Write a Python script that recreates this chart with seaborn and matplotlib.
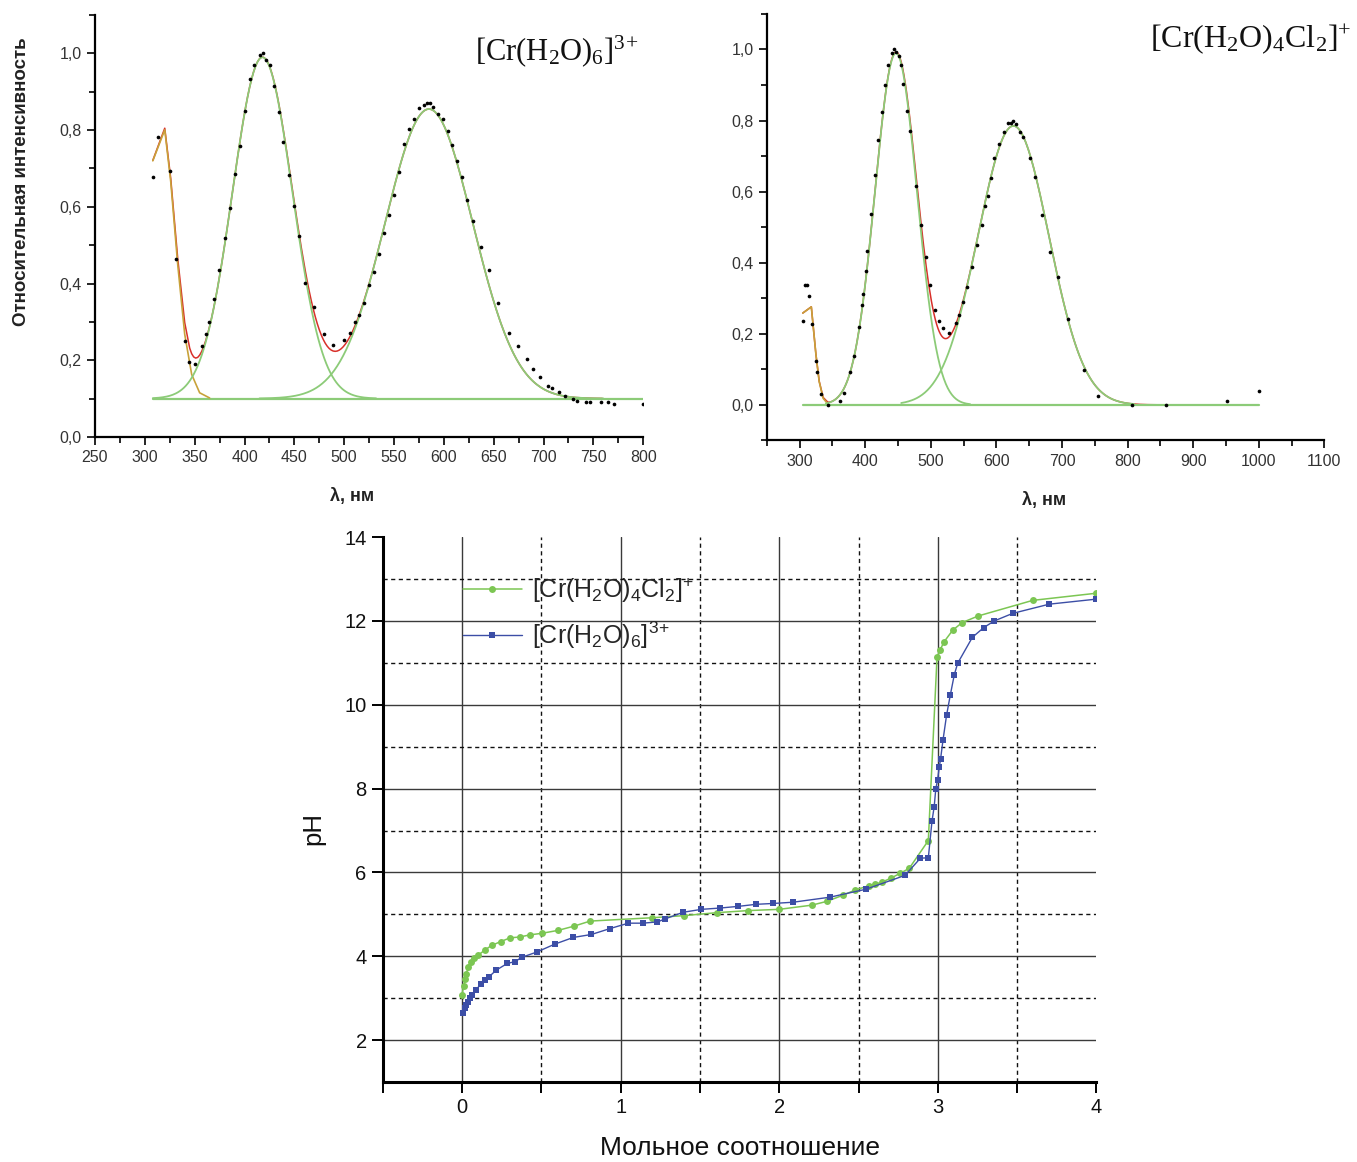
import numpy as np
import matplotlib
matplotlib.use("Agg")
import matplotlib.pyplot as plt
import seaborn as sns
from matplotlib import font_manager
from matplotlib.ticker import MultipleLocator, FixedLocator, FuncFormatter, NullFormatter

# ---------------- data: [Cr(H2O)6]3+ spectrum (top left) ----------------
cr6_wl = [308.6, 313, 325.5, 331, 340, 344, 350, 357, 361, 364.6, 369, 374.6, 380, 385,
          390, 395.4, 400.6, 405.4, 410, 415.4, 418.4, 421.4, 425.8, 429.7, 435, 439,
          444.4, 449.7, 454.9, 460.5, 469.6, 479.6, 489, 499.6, 505.6, 510.9, 514.8,
          519.5, 525, 530, 534.7, 540, 545, 550.3, 555, 560, 565, 570, 575, 579.9, 583,
          586.4, 589.4, 593.7, 599, 603.7, 608.5, 613.3, 618.5, 623.7, 629, 637, 645.4,
          654, 665.8, 674.5, 683.6, 689.7, 696, 704, 708.4, 715.7, 722, 730, 734,
          742.6, 747, 758, 764.3, 771, 800]
cr6_int = [0.679, 0.781, 0.693, 0.465, 0.25, 0.196, 0.19, 0.238, 0.268, 0.30, 0.36, 0.434,
           0.52, 0.596, 0.686, 0.758, 0.849, 0.934, 0.971, 0.997, 1.0, 0.984, 0.971, 0.914,
           0.847, 0.768, 0.683, 0.602, 0.523, 0.402, 0.338, 0.268, 0.239, 0.252, 0.27,
           0.30, 0.318, 0.349, 0.395, 0.43, 0.476, 0.532, 0.578, 0.631, 0.692, 0.763,
           0.803, 0.829, 0.858, 0.865, 0.87, 0.87, 0.861, 0.843, 0.829, 0.797, 0.762,
           0.72, 0.679, 0.617, 0.563, 0.495, 0.434, 0.349, 0.271, 0.238, 0.202, 0.178,
           0.157, 0.133, 0.128, 0.117, 0.107, 0.098, 0.093, 0.092, 0.091, 0.092, 0.091,
           0.086, 0.085]
# Gaussian fit: baseline, centres, heights, widths
cr6_baseline = 0.10
cr6_centers = [316, 418, 585]
cr6_heights = [0.73, 0.89, 0.755]
cr6_sigmas = [14, 30, 44]
cr6_uv_wl = [308, 320, 326, 333, 340, 347, 355, 365]

# ---------------- data: [Cr(H2O)4Cl2]+ spectrum (top right) ----------------
crcl_wl = [305.3, 308.6, 311, 315, 319, 324.5, 327, 333, 343, 362, 367.5, 377.5, 383, 390,
           394.7, 396, 400.7, 403.3, 408.6, 414.6, 420, 425, 429.8, 434.4, 441, 444.4,
           447, 451, 454.3, 458.3, 463.6, 469, 478, 485.4, 492.7, 498.7, 506.6, 512,
           518.5, 528.5, 538.4, 543.7, 549, 555, 563, 570, 578, 582, 586.7, 591.4,
           596.7, 604, 612, 618, 623, 626, 630, 636.4, 640.4, 651, 659, 669.5, 682,
           694.7, 709, 733, 755.6, 807, 858, 951, 1000.7]
crcl_int = [0.237, 0.336, 0.336, 0.306, 0.227, 0.123, 0.092, 0.031, 0.0, 0.012, 0.033, 0.092,
            0.138, 0.22, 0.281, 0.312, 0.377, 0.434, 0.537, 0.647, 0.746, 0.823, 0.901,
            0.955, 0.989, 1.0, 0.994, 0.983, 0.957, 0.903, 0.828, 0.771, 0.615, 0.505,
            0.417, 0.336, 0.267, 0.236, 0.215, 0.203, 0.231, 0.253, 0.29, 0.333, 0.389,
            0.45, 0.507, 0.559, 0.589, 0.637, 0.696, 0.735, 0.769, 0.794, 0.794, 0.798,
            0.79, 0.769, 0.754, 0.694, 0.642, 0.535, 0.429, 0.359, 0.241, 0.097, 0.026,
            0.0, 0.0, 0.012, 0.039]
crcl_baseline = 0.0
crcl_centers = [312, 447, 626]
crcl_heights = [0.33, 0.99, 0.785]
crcl_sigmas = [10, 32, 54]
crcl_uv_wl = [305, 318, 325, 330, 336, 343]

# ---------------- data: titration curves (bottom) ----------------
cl_ratio = [0.0, 0.01, 0.02, 0.027, 0.04, 0.055, 0.076, 0.103, 0.145, 0.187, 0.244, 0.303,
            0.364, 0.427, 0.507, 0.608, 0.707, 0.808, 1.2, 1.4, 1.605, 1.804, 2.0, 2.206,
            2.30, 2.404, 2.478, 2.563, 2.606, 2.648, 2.702, 2.763, 2.82, 2.94, 2.995,
            3.014, 3.037, 3.094, 3.153, 3.256, 3.598, 3.998]
cl_ph = [3.07, 3.30, 3.45, 3.58, 3.75, 3.87, 3.95, 4.03, 4.15, 4.26, 4.35, 4.44, 4.46, 4.51,
         4.55, 4.62, 4.72, 4.84, 4.92, 4.97, 5.04, 5.09, 5.12, 5.22, 5.31, 5.46, 5.58, 5.68,
         5.72, 5.77, 5.86, 5.98, 6.10, 6.76, 11.14, 11.30, 11.49, 11.78, 11.96, 12.12,
         12.49, 12.66]
aq_ratio = [0.008, 0.019, 0.027, 0.038, 0.048, 0.065, 0.086, 0.122, 0.145, 0.170, 0.216,
            0.286, 0.332, 0.380, 0.471, 0.585, 0.702, 0.816, 0.932, 1.049, 1.140, 1.232,
            1.280, 1.394, 1.51, 1.624, 1.74, 1.855, 1.962, 2.088, 2.32, 2.547, 2.793, 2.89,
            2.94, 2.963, 2.977, 2.987, 2.998, 3.009, 3.017, 3.033, 3.055, 3.079, 3.104,
            3.125, 3.218, 3.289, 3.356, 3.472, 3.703, 4.0]
aq_ph = [2.65, 2.76, 2.84, 2.92, 3.00, 3.07, 3.19, 3.35, 3.43, 3.51, 3.67, 3.83, 3.87, 3.98,
         4.10, 4.29, 4.45, 4.52, 4.66, 4.79, 4.79, 4.82, 4.89, 5.05, 5.12, 5.15, 5.19, 5.24,
         5.26, 5.29, 5.41, 5.60, 5.93, 6.34, 6.35, 7.22, 7.57, 7.99, 8.20, 8.51, 8.70, 9.17,
         9.75, 10.24, 10.72, 10.99, 11.61, 11.84, 12.00, 12.18, 12.40, 12.52]

label_cl = r"[Cr(H$_2$O)$_4$Cl$_2$]$^{+}$"
label_aq = r"[Cr(H$_2$O)$_6$]$^{3\!+}$"

# ---------------- style ----------------
sns.set_theme(style="white")
plt.rcParams["font.family"] = ["Liberation Sans", "DejaVu Sans"]
plt.rcParams["mathtext.default"] = "regular"
plt.rcParams["axes.unicode_minus"] = False

_names = {f.name for f in font_manager.fontManager.ttflist}
HAS_NARROW = "Liberation Sans Narrow" in _names
NARROW = ["Liberation Sans Narrow", "Liberation Sans", "DejaVu Sans"] if HAS_NARROW \
    else ["Liberation Sans", "DejaVu Sans"]
# the lower chart uses a condensed face; without it use a smaller regular face
BOT_LEG_FS = 22 if HAS_NARROW else 18
BOT_TICK_FS = 17 if HAS_NARROW else 14.5
BOT_XLAB_FS = 22 if HAS_NARROW else 19
BOT_YLAB_FS = 20 if HAS_NARROW else 18.5

FIT_GREEN = "#8ccb78"
SUM_RED = "#d8302a"
GREEN = "#7cc653"
BLUE = "#3c4ea6"

fig = plt.figure(figsize=(13.57, 11.62), dpi=100)
fig.patch.set_facecolor("white")


def gauss(x, c, a, s):
    return a * np.exp(-(x - c) ** 2 / (2.0 * s ** 2))


def comma(v, pos):
    if abs(v) < 1e-9:
        v = 0.0
    return f"{v:.1f}".replace(".", ",")


def draw_spectrum(ax, wl, inten, base, centers, heights, sigmas, uv_wl,
                  base_span, peak_spans, sum_end):
    uv_wl = np.asarray(uv_wl, float)
    # sum of fitted components (red)
    sum_x = np.concatenate([uv_wl[uv_wl < 345], np.arange(345, sum_end + 1, 2.0)])
    total = base + sum(gauss(sum_x, c, a, s) for c, a, s in zip(centers, heights, sigmas))
    sns.lineplot(x=sum_x, y=total, ax=ax, color=SUM_RED, lw=1.1, estimator=None, sort=False)
    # baseline
    bx = np.array(base_span, float)
    sns.lineplot(x=bx, y=[base, base], ax=ax, color=FIT_GREEN, lw=1.6, estimator=None)
    # UV component sampled at the measured wavelengths
    uv_y = base + gauss(uv_wl, centers[0], heights[0], sigmas[0])
    sns.lineplot(x=uv_wl, y=uv_y, ax=ax, color="#c8a23a", lw=1.2, estimator=None, sort=False)
    # visible components
    for (c, a, s), (x0, x1) in zip(zip(centers[1:], heights[1:], sigmas[1:]), peak_spans):
        px = np.arange(x0, x1 + 0.1, 1.0)
        sns.lineplot(x=px, y=base + gauss(px, c, a, s), ax=ax, color=FIT_GREEN, lw=1.3,
                     estimator=None, sort=False)
    sns.scatterplot(x=wl, y=inten, ax=ax, color="black", s=7, linewidth=0, zorder=5)


def style_top(ax, xlim, ylim, xmaj, xmin_, tick_fs=11.5):
    ax.set_xlim(*xlim)
    ax.set_ylim(*ylim)
    for side in ("top", "right"):
        ax.spines[side].set_visible(False)
    for side in ("left", "bottom"):
        ax.spines[side].set_color("black")
        ax.spines[side].set_linewidth(1.6)
    ax.xaxis.set_major_locator(MultipleLocator(xmaj))
    ax.xaxis.set_minor_locator(MultipleLocator(xmin_))
    ax.yaxis.set_major_locator(FixedLocator([0.0, 0.2, 0.4, 0.6, 0.8, 1.0]))
    ax.yaxis.set_minor_locator(MultipleLocator(0.1))
    ax.yaxis.set_major_formatter(FuncFormatter(comma))
    ax.tick_params(which="both", direction="out", color="black", width=1.2,
                   bottom=True, left=True, labelsize=tick_fs, labelcolor="#333333")
    ax.tick_params(which="major", length=6)
    ax.tick_params(which="minor", length=4)
    ax.set_facecolor("white")


# ---------------- top left ----------------
ax1 = fig.add_axes([0.070, 0.624, 0.404, 0.363])
draw_spectrum(ax1, cr6_wl, cr6_int, cr6_baseline, cr6_centers, cr6_heights, cr6_sigmas,
              cr6_uv_wl, (308, 800), [(308, 532), (415, 760)], 760)
style_top(ax1, (250, 800), (0, 1.1), 50, 25)
ax1.set_xlabel("λ, нм", fontsize=13, fontweight="bold", color="#222222")
ax1.xaxis.set_label_coords(0.469, -0.122)
ax1.set_ylabel("Относительная интенсивность", fontsize=13.5, fontweight="bold",
               color="#222222")
ax1.yaxis.set_label_coords(-0.118, 0.605)
fig.text(475 / 1357, 1 - 60 / 1162, label_aq, fontsize=22,
         family=["Liberation Serif", "DejaVu Serif"], color="#111111", va="baseline")

# ---------------- top right ----------------
ax2 = fig.add_axes([0.565, 0.621, 0.411, 0.367])
draw_spectrum(ax2, crcl_wl, crcl_int, crcl_baseline, crcl_centers, crcl_heights,
              crcl_sigmas, crcl_uv_wl, (305, 1000), [(340, 560), (455, 810)], 1000)
style_top(ax2, (250, 1100), (-0.1, 1.1), 100, 50)
ax2.set_xlabel("λ, нм", fontsize=13, fontweight="bold", color="#222222")
ax2.xaxis.set_label_coords(0.498, -0.122)
ax2.set_ylabel("")
fig.text(1150 / 1357, 1 - 47 / 1162, label_cl, fontsize=23,
         family=["Liberation Serif", "DejaVu Serif"], color="#111111", va="baseline")

# ---------------- bottom: titration ----------------
ax3 = fig.add_axes([0.282, 0.0688, 0.526, 0.469])
ax3.set_facecolor("white")
ax3.set_xlim(-0.5, 4.0)
ax3.set_ylim(1, 14)
ax3.xaxis.set_major_locator(FixedLocator([0, 1, 2, 3, 4]))
ax3.xaxis.set_minor_locator(FixedLocator([-0.5, 0.5, 1.5, 2.5, 3.5]))
ax3.yaxis.set_major_locator(FixedLocator([2, 4, 6, 8, 10, 12, 14]))
ax3.yaxis.set_minor_locator(FixedLocator([3, 5, 7, 9, 11, 13]))
ax3.xaxis.set_minor_formatter(NullFormatter())
ax3.grid(which="major", color="#3a3a3a", lw=1.0, ls="-")
ax3.grid(which="minor", color="#111111", lw=1.0, ls=(0, (3, 2.5)))
ax3.set_axisbelow(True)

sns.lineplot(x=cl_ratio, y=cl_ph, ax=ax3, color=GREEN, lw=1.1, marker="o", markersize=5,
             markeredgewidth=0, markerfacecolor=GREEN, estimator=None, sort=False,
             label=label_cl)
sns.lineplot(x=aq_ratio, y=aq_ph, ax=ax3, color=BLUE, lw=1.0, marker="s", markersize=4,
             markeredgewidth=0, markerfacecolor=BLUE, estimator=None, sort=False,
             label=label_aq)

# hide grid lines lying on the frame edges
for gl in ax3.get_xgridlines():
    if abs(gl.get_xdata()[0] - 4) < 1e-6:
        gl.set_visible(False)
for gl in ax3.get_ygridlines():
    if abs(gl.get_ydata()[0] - 14) < 1e-6:
        gl.set_visible(False)

for side in ("top", "right"):
    ax3.spines[side].set_visible(False)
for side in ("left", "bottom"):
    ax3.spines[side].set_color("black")
    ax3.spines[side].set_linewidth(2.2)
ax3.tick_params(which="both", direction="out", color="black", width=1.4,
                bottom=True, left=True, labelsize=BOT_TICK_FS, labelcolor="#111111")
for lab in ax3.get_xticklabels() + ax3.get_yticklabels():
    lab.set_family(NARROW)
ax3.tick_params(axis="x", which="both", length=8)
ax3.tick_params(axis="y", which="major", length=8)
ax3.tick_params(axis="y", which="minor", length=0)
ax3.set_xlabel("Мольное соотношение", fontsize=BOT_XLAB_FS, color="#111111", labelpad=14,
               family=NARROW)
ax3.set_ylabel("pH", fontsize=BOT_YLAB_FS, color="#111111", family=NARROW)
ax3.yaxis.set_label_coords(-0.08, 0.466)

leg_fs = BOT_LEG_FS * 100 / 72.0
leg = ax3.legend(loc="upper left", bbox_to_anchor=(0.112, 0.929), frameon=False,
                 prop={"family": NARROW, "size": BOT_LEG_FS},
                 handlelength=59 / leg_fs, handletextpad=10 / leg_fs, labelspacing=0.58,
                 borderpad=0.0, borderaxespad=0.0)

fig.savefig("out.png", dpi=100, facecolor="white")
